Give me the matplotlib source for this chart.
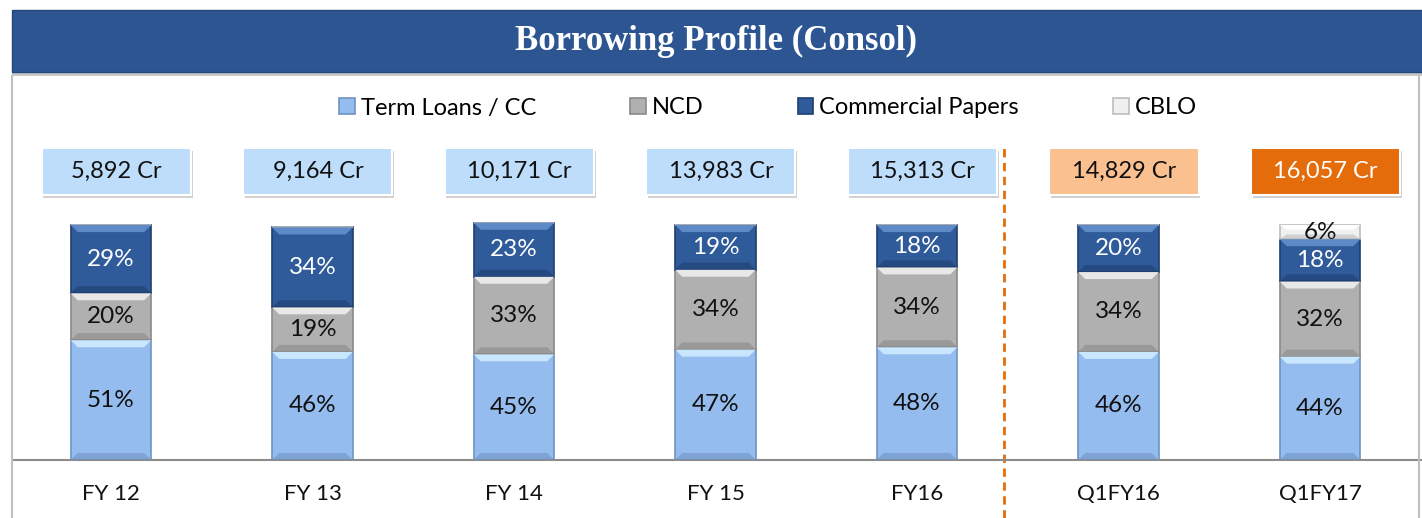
import matplotlib
matplotlib.use("Agg")
import matplotlib.pyplot as plt
from matplotlib.patches import Rectangle, Polygon
from matplotlib.lines import Line2D

# data
periods = ["FY 12", "FY 13", "FY 14", "FY 15", "FY16", "Q1FY16", "Q1FY17"]
totals = ["5,892 Cr", "9,164 Cr", "10,171 Cr", "13,983 Cr", "15,313 Cr", "14,829 Cr", "16,057 Cr"]
term_loans = [51, 46, 45, 47, 48, 46, 44]
ncd = [20, 19, 33, 34, 34, 34, 32]
cp = [29, 34, 23, 19, 18, 20, 18]
cblo = [0, 0, 0, 0, 0, 0, 6]

series = [
    ("Term Loans / CC", term_loans, "#95BCEE", "#C9E6FF", "#6F93C4", "#111111"),
    ("NCD", ncd, "#B0B0B0", "#E8E8E8", "#8A8A8A", "#111111"),
    ("Commercial Papers", cp, "#2F5B9B", "#5E8AC8", "#1F3F70", "white"),
    ("CBLO", cblo, "#F0F0F0", "#FFFFFF", "#BDBDBD", "#111111"),
]
box_colors = ["#BDDDFB"] * 5 + ["#FAC090", "#E46C0A"]
box_text_colors = ["#111111"] * 6 + ["white"]

plt.rcParams["font.family"] = ["Lato", "DejaVu Sans"]

W, H = 1422, 518
fig = plt.figure(figsize=(W / 100, H / 100), dpi=100)

# title banner
fig.patches.append(Rectangle((12 / W, 1 - 76 / H), 1, 4 / H, transform=fig.transFigure,
                             facecolor="#C8C8C8", edgecolor="none"))
fig.patches.append(Rectangle((12 / W, 1 - 72 / H), 1, 62 / H, transform=fig.transFigure,
                             facecolor="#2C5592", edgecolor="#24467A", lw=1))
fig.text(716 / W, 1 - 41 / H, "Borrowing Profile (Consol)", color="white", fontsize=25,
         fontweight="bold", family=["Liberation Serif", "DejaVu Serif"], ha="center", va="center")

# frame lines
fig.lines.append(Line2D([12 / W, 12 / W], [0, 1 - 76 / H], transform=fig.transFigure,
                        color="#BFBFBF", lw=1.5))
fig.lines.append(Line2D([1419 / W, 1419 / W], [0, 1 - 76 / H], transform=fig.transFigure,
                        color="#BFBFBF", lw=1.5))

ax = fig.add_axes([12 / W, 58 / H, 1 - 12 / W, 320 / H])
x = list(range(len(periods)))
bw = 0.40
ax.set_xlim(-0.491, 6.506)
ax.set_ylim(0, 136.2)

bev_x = 0.035
bev_y = 3.0
handles = []
bottoms = [0] * len(periods)
for name, vals, base, light, dark, tcol in series:
    bars = ax.bar(x, vals, bw, bottom=bottoms, color=base, edgecolor=dark, lw=1.2,
                  label=name, zorder=2)
    handles.append(bars)
    for i, (v, b) in enumerate(zip(vals, bottoms)):
        if v <= 0:
            continue
        x0, x1 = i - bw / 2, i + bw / 2
        top = b + v
        hy = min(bev_y, v / 3)
        ax.add_patch(Polygon([(x0, top), (x1, top), (x1 - bev_x, top - hy), (x0 + bev_x, top - hy)],
                             closed=True, facecolor=light, edgecolor="none", zorder=3))
        ax.add_patch(Polygon([(x0, b), (x1, b), (x1 - bev_x, b + hy), (x0 + bev_x, b + hy)],
                             closed=True, facecolor=dark, edgecolor="none", alpha=0.6, zorder=3))
        ax.text(i, b + v / 2, f"{v}%", ha="center", va="center", fontsize=17.5, color=tcol, zorder=4)
    bottoms = [b + v for b, v in zip(bottoms, vals)]

# total boxes
box_w, box_h, box_y, box_dx = 0.74, 20.0, 122.8, 0.027
for i, (t, fc, tc) in enumerate(zip(totals, box_colors, box_text_colors)):
    cx = i + box_dx
    ax.add_patch(Rectangle((cx - box_w / 2 + 0.008, box_y - box_h / 2 - 1.2), box_w, box_h,
                           facecolor="#D0D0D0", edgecolor="none", clip_on=False, zorder=1))
    ax.add_patch(Rectangle((cx - box_w / 2, box_y - box_h / 2), box_w, box_h,
                           facecolor=fc, edgecolor="white", lw=1.5, clip_on=False, zorder=2))
    ax.text(cx, box_y, t, ha="center", va="center", fontsize=17, color=tc, zorder=3)

# divider between annual and quarterly
divider_x = 4.43
ax.plot([divider_x, divider_x], [-24.7, 132.8], color="#E46C0A", lw=2, ls=(0, (3, 2)),
        clip_on=False, zorder=1)

for s in ["top", "right", "left"]:
    ax.spines[s].set_visible(False)
ax.spines["bottom"].set_color("#8C8C8C")
ax.spines["bottom"].set_linewidth(1.5)
ax.set_yticks([])
ax.set_xticks(x)
ax.set_xticklabels(periods, fontsize=16, color="#111111")
ax.tick_params(axis="x", length=0, pad=17)

fig.legend(handles=handles, loc="center", bbox_to_anchor=(768 / W, 1 - 108 / H), ncol=4,
           frameon=False, fontsize=17, handlelength=0.65, handleheight=0.65,
           handletextpad=0.25, columnspacing=4.0)

fig.savefig("out.png", dpi=100)
